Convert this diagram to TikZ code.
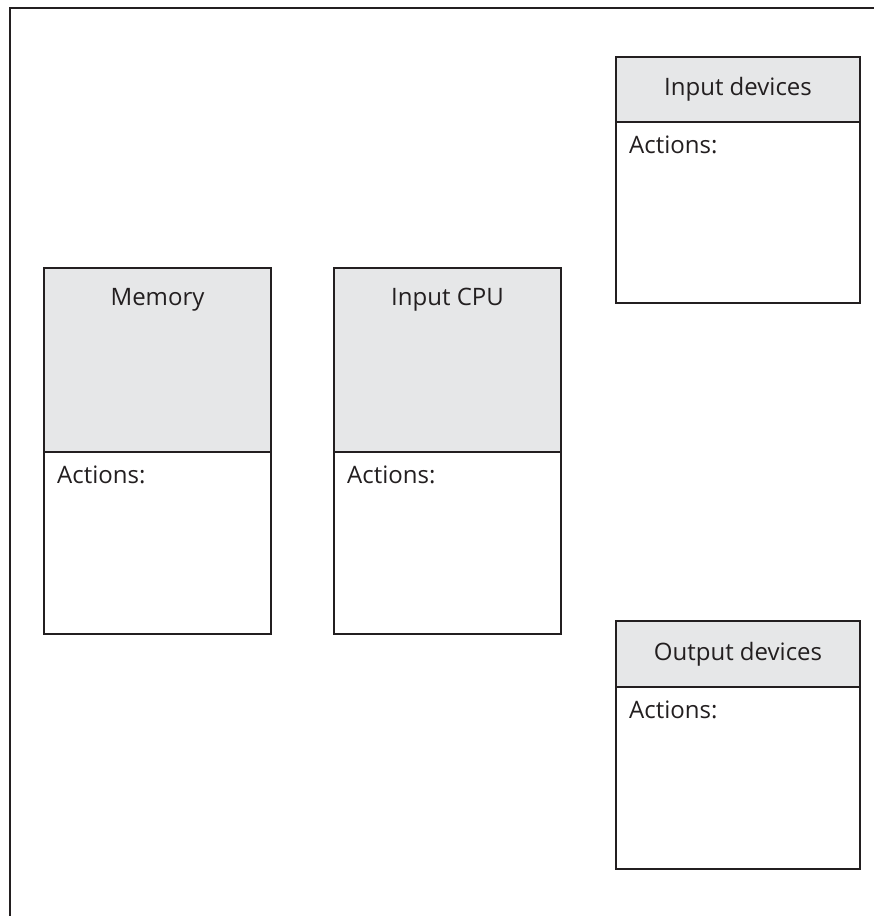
\documentclass[tikz,border=0pt]{standalone}
\usepackage{fontspec}
\setmainfont{Open Sans}
\usetikzlibrary{positioning}
\definecolor{lineDark}{HTML}{231F20}
\definecolor{headGray}{HTML}{E6E7E8}
\tikzstyle{headNode} = [rectangle, draw=lineDark, fill=headGray, line width=2.2pt, inner sep=0pt, outer sep=0pt]
\tikzstyle{bodyNode} = [rectangle, draw=lineDark, fill=white, line width=2.2pt, inner sep=0pt, outer sep=0pt]
\tikzstyle{titleText} = [font=\fontsize{24}{28}\selectfont, text=lineDark, inner sep=0pt]
\tikzstyle{actText} = [titleText, anchor=west]

\begin{document}
\begin{tikzpicture}[x=1pt,y=-1pt]
    \useasboundingbox (0,0) rectangle (874,916);
    \draw [line width=2.5pt, lineDark] (10,916) -- (10,8) -- (874,8);

    \node (memHead)[headNode, minimum width=227pt, minimum height=184pt, anchor=north west] at (44,268) {};
    \node (memBody)[bodyNode, minimum width=227pt, minimum height=182pt, anchor=north] at (memHead.south) {};
    \node (memTitle)[titleText] at ([yshift=-32pt]memHead.north) {Memory};
    \node (memAct)[actText] at ([xshift=13pt,yshift=-23pt]memBody.north west) {Actions:};

    \node (cpuHead)[headNode, minimum width=227pt, minimum height=184pt, anchor=north west] at (334,268) {};
    \node (cpuBody)[bodyNode, minimum width=227pt, minimum height=182pt, anchor=north] at (cpuHead.south) {};
    \node (cpuTitle)[titleText] at ([yshift=-32pt]cpuHead.north) {Input CPU};
    \node (cpuAct)[actText] at ([xshift=13pt,yshift=-23pt]cpuBody.north west) {Actions:};

    \node (inHead)[headNode, minimum width=244pt, minimum height=65pt, anchor=north west] at (616,57) {};
    \node (inBody)[bodyNode, minimum width=244pt, minimum height=181pt, anchor=north] at (inHead.south) {};
    \node (inTitle)[titleText] at ([yshift=-32pt]inHead.north) {Input devices};
    \node (inAct)[actText] at ([xshift=13pt,yshift=-23pt]inBody.north west) {Actions:};

    \node (outHead)[headNode, minimum width=244pt, minimum height=66pt, anchor=north west] at (616,621) {};
    \node (outBody)[bodyNode, minimum width=244pt, minimum height=182pt, anchor=north] at (outHead.south) {};
    \node (outTitle)[titleText] at ([yshift=-33pt]outHead.north) {Output devices};
    \node (outAct)[actText] at ([xshift=13pt,yshift=-23pt]outBody.north west) {Actions:};

\end{tikzpicture}
\end{document}
